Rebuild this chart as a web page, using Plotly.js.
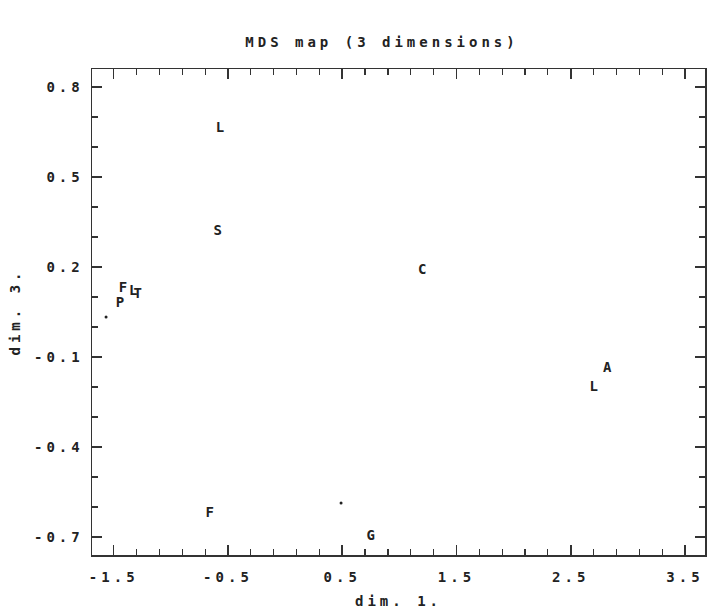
<!DOCTYPE html>
<html>
<head>
<meta charset="utf-8">
<script src="https://cdn.plot.ly/plotly-3.0.1.min.js"></script>
<style>
  html, body { margin: 0; padding: 0; background: #fff; }
  #chart { width: 707px; height: 615px; }
  .xtick text, .ytick text { letter-spacing: 4px; }
  .gtitle, .xtitle, .ytitle { letter-spacing: 4px; }
</style>
</head>
<body>
<div id="chart"></div>
<script>
// Point labels
const labels = ['L', 'S', 'C', 'F', 'L', 'T', 'P', 'A', 'L', 'F', 'G'];
const dim1   = [-0.57, -0.59, 1.20, -1.42, -1.33, -1.29, -1.445, 2.82, 2.70, -0.66, 0.75];
const dim3   = [0.663, 0.317, 0.187, 0.130, 0.117, 0.110, 0.080, -0.137, -0.203, -0.620, -0.697];

// Stray dots on the map
const dotX = [0.49, -1.567];
const dotY = [-0.587, 0.033];

const xTicks = [-1.5, -0.5, 0.5, 1.5, 2.5, 3.5];
const yTicks = [0.8, 0.5, 0.2, -0.1, -0.4, -0.7];
const xRange = [-1.69, 3.675];
const yRange = [-0.76, 0.86];

const FONT = 'DejaVu Sans Mono, Liberation Mono, monospace';
const INK = '#222';

const traces = [
  {
    x: dim1, y: dim3, text: labels,
    mode: 'text', type: 'scatter',
    textposition: 'middle center',
    textfont: { family: FONT, size: 14, color: INK, weight: 'bold' },
    hoverinfo: 'text', showlegend: false
  },
  {
    x: dotX, y: dotY, mode: 'markers', type: 'scatter',
    marker: { size: 3, color: INK },
    hoverinfo: 'skip', showlegend: false
  },
  // invisible trace to anchor the mirrored top/right tick axes
  {
    x: [xRange[0]], y: [yRange[0]], xaxis: 'x2', yaxis: 'y2',
    mode: 'markers', marker: { size: 0, opacity: 0 },
    hoverinfo: 'skip', showlegend: false
  }
];

const tickCommon = {
  showgrid: false, zeroline: false,
  ticks: 'inside', ticklen: 10, tickwidth: 1.5, tickcolor: '#333',
  tickmode: 'array'
};

const layout = {
  width: 707, height: 615,
  paper_bgcolor: '#fff', plot_bgcolor: '#fff',
  margin: { l: 92, r: 2, t: 69, b: 60 },
  title: {
    text: 'MDS map (3 dimensions)',
    font: { family: FONT, size: 14, color: INK, weight: 'bold' },
    x: 382 / 707, xanchor: 'center', xref: 'container',
    y: 1 - 42 / 615, yanchor: 'middle', yref: 'container'
  },
  xaxis: Object.assign({}, tickCommon, {
    range: xRange,
    showline: true, mirror: true, linecolor: '#333', linewidth: 1.5,
    tickvals: xTicks, ticktext: xTicks.map(v => v.toFixed(1)),
    tickfont: { family: FONT, size: 14, color: INK, weight: 'bold' },
    ticklabelstandoff: 9,
    minor: { ticks: 'inside', ticklen: 6, tickwidth: 1.2, tickcolor: '#333', dtick: 0.2, tick0: -1.5 },
    title: { text: 'dim. 1.', font: { family: FONT, size: 14, color: INK, weight: 'bold' }, standoff: 12 }
  }),
  yaxis: Object.assign({}, tickCommon, {
    range: yRange,
    showline: true, mirror: true, linecolor: '#333', linewidth: 1.5,
    tickvals: yTicks, ticktext: yTicks.map(v => v.toFixed(1)),
    tickfont: { family: FONT, size: 14, color: INK, weight: 'bold' },
    ticklabelstandoff: 4,
    minor: { ticks: 'inside', ticklen: 6, tickwidth: 1.2, tickcolor: '#333', dtick: 0.1, tick0: 0.8 },
    title: { text: 'dim. 3.', font: { family: FONT, size: 14, color: INK, weight: 'bold' }, standoff: 10 }
  }),
  xaxis2: Object.assign({}, tickCommon, {
    range: xRange, overlaying: 'x', side: 'top', anchor: 'y2',
    showline: false, showticklabels: false,
    tickvals: xTicks,
    minor: { ticks: 'inside', ticklen: 6, tickwidth: 1.2, tickcolor: '#333', dtick: 0.2, tick0: -1.5 }
  }),
  yaxis2: Object.assign({}, tickCommon, {
    range: yRange, overlaying: 'y', side: 'right', anchor: 'x2',
    showline: false, showticklabels: false,
    tickvals: yTicks,
    minor: { ticks: 'inside', ticklen: 6, tickwidth: 1.2, tickcolor: '#333', dtick: 0.1, tick0: 0.8 }
  }),
  showlegend: false
};

Plotly.newPlot('chart', traces, layout, { staticPlot: true, displayModeBar: false });
</script>
</body>
</html>
